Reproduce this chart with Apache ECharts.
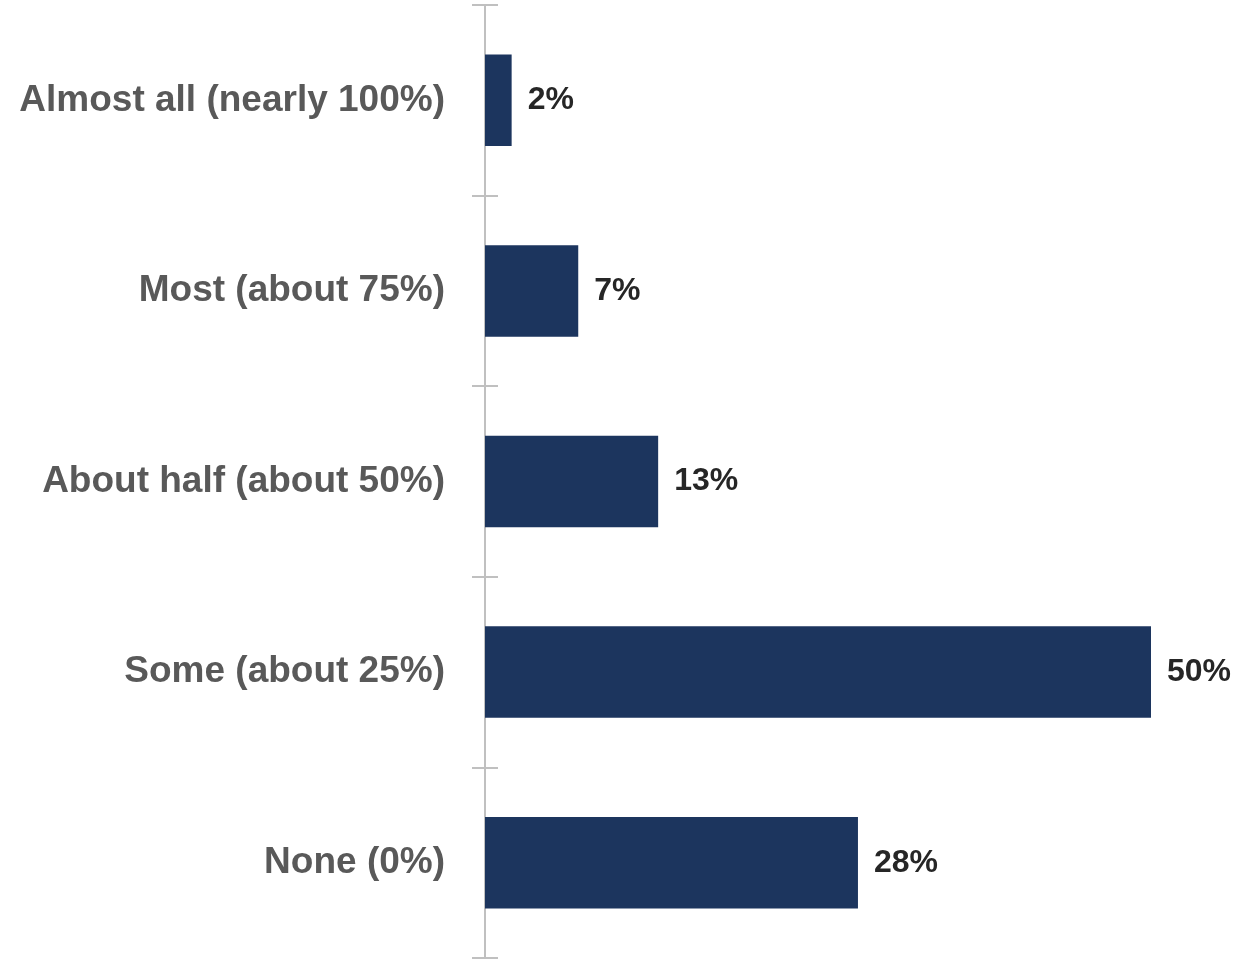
<!DOCTYPE html>
<html>
<head>
<meta charset="utf-8">
<script src="https://cdn.jsdelivr.net/npm/echarts@6/dist/echarts.min.js"></script>
<style>
html,body{margin:0;padding:0;background:#fff;}
#chart{width:1235px;height:960px;}
</style>
</head>
<body>
<div id="chart"></div>
<script>
const categories = ["Almost all (nearly 100%)", "Most (about 75%)", "About half (about 50%)", "Some (about 25%)", "None (0%)"];
const values = [2, 7, 13, 50, 28];

const FONT = '"Liberation Sans Narrow", "Liberation Sans", Arial, sans-serif';
const chart = echarts.init(document.getElementById('chart'));
chart.setOption({
  animation: false,
  grid: { left: 485, right: 84, top: 5, bottom: 2, containLabel: false },
  xAxis: { type: 'value', min: 0, max: 50, show: false },
  yAxis: [{
    type: 'category',
    data: categories,
    inverse: true,
    axisLine: { show: true, lineStyle: { color: '#c0c0c0', width: 2 } },
    axisTick: { show: true, length: 13, lineStyle: { color: '#c0c0c0', width: 2 } },
    axisLabel: { margin: 40, color: '#595959', fontSize: 37, fontWeight: 'bold', fontFamily: FONT, padding: [10, 0, 0, 0] }
  }, {
    type: 'category',
    data: categories,
    inverse: true,
    position: 'left',
    axisLine: { show: false },
    axisTick: { show: true, inside: true, length: 13, lineStyle: { color: '#c0c0c0', width: 2 } },
    axisLabel: { show: false }
  }],
  series: [{
    type: 'bar',
    data: values,
    barWidth: '48%',
    itemStyle: { color: '#1c355e' },
    label: {
      show: true,
      position: 'right',
      distance: 16,
      formatter: '{c}%',
      color: '#262626',
      fontSize: 32,
      fontWeight: 'bold',
      fontFamily: FONT,
      padding: [10, 0, 0, 0]
    }
  }]
});
</script>
</body>
</html>
